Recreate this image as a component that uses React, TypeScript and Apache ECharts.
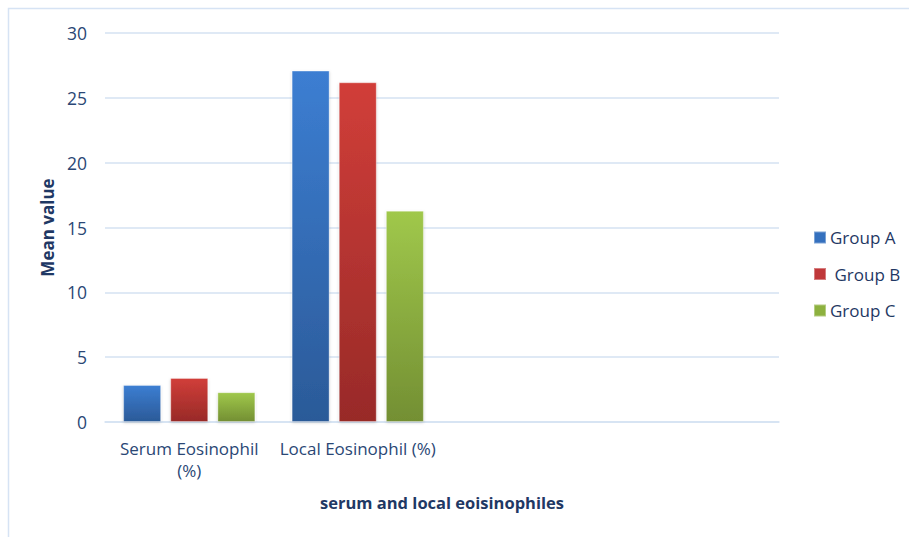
import React, { useEffect, useRef } from "react";
import * as echarts from "echarts";

const categories = ["Serum Eosinophil\n(%)", "Local Eosinophil (%)", "", ""];
const seriesNames = ["Group A", " Group B", "Group C"];
const groupA = [2.85, 27.1, null, null];
const groupB = [3.4, 26.2, null, null];
const groupC = [2.3, 16.3, null, null];
const yTicks = { min: 0, max: 30, interval: 5 };

const FONT = "'Open Sans', 'Noto Sans', sans-serif";
const TEXT_DARK = "#1F3864";
const TEXT_MID = "#2A4775";
const GRID_LINE = "#D5E2F2";

const grad = (top: string, bottom: string) =>
  new echarts.graphic.LinearGradient(0, 0, 0, 1, [
    { offset: 0, color: top },
    { offset: 1, color: bottom },
  ]);

const palette = [
  { top: "#3C7ED2", bottom: "#2B5A98", legend: "#3470BE" },
  { top: "#D13E39", bottom: "#982A28", legend: "#C0383A" },
  { top: "#A0C84B", bottom: "#738F33", legend: "#8DB13F" },
];

export default function App() {
  const ref = useRef<HTMLDivElement>(null);

  useEffect(() => {
    if (!ref.current) return;
    const chart = echarts.init(ref.current, undefined, { renderer: "svg" });
    const values = [groupA, groupB, groupC];

    chart.setOption({
      animation: false,
      backgroundColor: "#ffffff",
      textStyle: { fontFamily: FONT },
      graphic: [
        {
          type: "rect",
          shape: { x: 8.5, y: 8.5, width: 920, height: 560 },
          style: { fill: "none", stroke: "#D6E3F4", lineWidth: 1.5 },
          silent: true,
          z: -1,
        },
      ],
      grid: { left: 105, right: 130, top: 33, bottom: 115 },
      legend: {
        orient: "vertical",
        left: 808,
        top: 224,
        itemWidth: 12,
        itemHeight: 12,
        itemGap: 19.5,
        icon: "rect",
        textStyle: { color: TEXT_DARK, fontSize: 17, fontFamily: FONT, padding: [0, 0, 0, -1] },
        data: seriesNames.map((n, i) => ({
          name: n,
          itemStyle: { color: palette[i].legend },
        })),
      },
      xAxis: {
        type: "category",
        data: categories,
        name: "serum and local eoisinophiles",
        nameLocation: "middle",
        nameGap: 72,
        nameTextStyle: {
          color: TEXT_DARK,
          fontSize: 16.5,
          fontWeight: "bold",
          fontFamily: FONT,
        },
        axisLine: { show: true, lineStyle: { color: GRID_LINE, width: 1.5 } },
        axisTick: { show: false },
        axisLabel: {
          color: TEXT_MID,
          fontSize: 17,
          margin: 15,
          lineHeight: 22,
          interval: 0,
          fontFamily: FONT,
        },
      },
      yAxis: {
        type: "value",
        min: yTicks.min,
        max: yTicks.max,
        interval: yTicks.interval,
        name: "Mean value",
        nameLocation: "middle",
        nameGap: 44,
        nameTextStyle: {
          color: TEXT_DARK,
          fontSize: 17,
          fontWeight: "bold",
          fontFamily: FONT,
        },
        axisLine: { show: false },
        axisTick: { show: false },
        axisLabel: { color: TEXT_MID, fontSize: 17.5, margin: 18, fontFamily: FONT },
        splitLine: { lineStyle: { color: GRID_LINE, width: 1.5 } },
      },
      series: seriesNames.map((n, i) => ({
        name: n,
        type: "bar",
        data: values[i],
        barWidth: 38,
        barGap: "24%",
        itemStyle: {
          color: grad(palette[i].top, palette[i].bottom),
          borderColor: "rgba(255,255,255,0.35)",
          borderWidth: 1,
          shadowColor: "rgba(0,0,0,0.18)",
          shadowBlur: 3,
          shadowOffsetY: 1,
        },
      })),
    });

    return () => chart.dispose();
  }, []);

  return (
    <div
      ref={ref}
      style={{ position: "fixed", left: 0, top: 0, width: 909, height: 537 }}
    />
  );
}
